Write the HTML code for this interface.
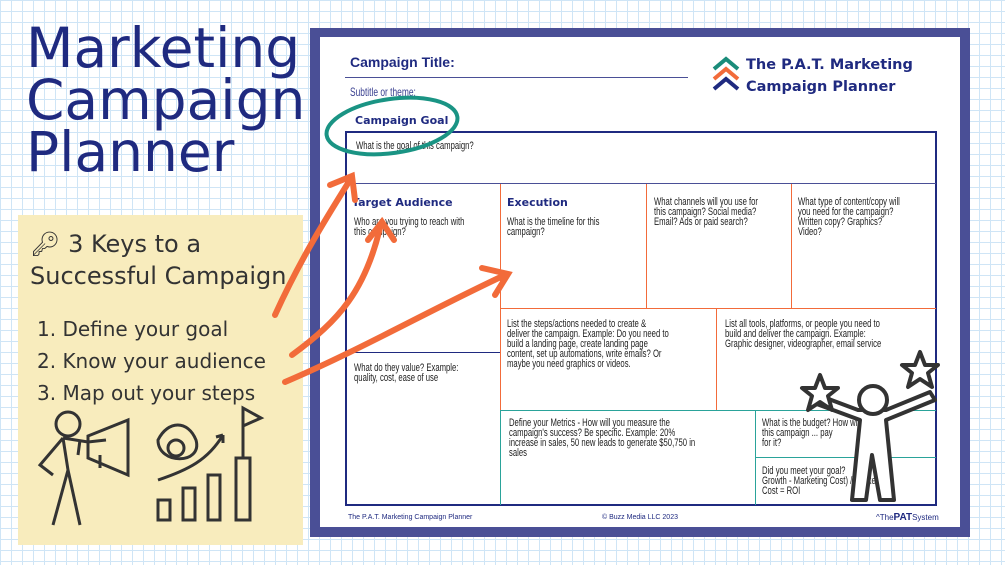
<!DOCTYPE html>
<html><head><meta charset="utf-8"><style>
*{margin:0;padding:0;box-sizing:border-box}
body{width:1005px;height:565px;overflow:hidden;position:relative;font-family:"Liberation Sans",sans-serif;
background-color:#fff;
background-image:linear-gradient(#cfe5f6 1px,transparent 1px),linear-gradient(90deg,#cfe5f6 1px,transparent 1px);
background-size:11px 11px;}
.a{position:absolute}
.t{font-size:11px;color:#222;line-height:10px;position:absolute;transform:scaleX(0.7);transform-origin:0 0;white-space:nowrap}
.h{font-weight:bold;color:#1f2a80;font-size:13px;position:absolute;white-space:nowrap}
.hw{position:absolute;color:#333;font-family:"DejaVu Sans",sans-serif;white-space:nowrap}
</style></head><body>
<div class="a" style="left:26px;top:22px;font-size:55px;line-height:52px;color:#1f2a80;font-family:'DejaVu Sans',sans-serif;">Marketing<br>Campaign<br>Planner</div>

<div class="a" style="left:18px;top:215px;width:285px;height:330px;background:#f8ecbd"></div>
<div class="hw" style="left:30px;top:228px;font-size:24px;line-height:32px">🔑︎ 3 Keys to a<br>Successful Campaign</div>
<div class="hw" style="left:37px;top:313px;font-size:20px;line-height:32px">1. Define your goal<br>2. Know your audience<br>3. Map out your steps</div>
<svg class="a" style="left:18px;top:400px" width="285" height="140" fill="none" stroke="#333" stroke-width="3">
<circle cx="50" cy="24" r="12"/><path d="M45 38 L70 42 L88 40 M45 38 L22 65 L35 75 M45 38 L50 70 L35 125 M50 70 L62 125 M60 55 L62 40"/>
<path d="M70 36 L110 20 L110 75 L70 58 Z M82 55 L82 68"/>
<path d="M140 40 C150 20 170 20 178 40 C185 65 140 65 140 40Z"/><circle cx="158" cy="48" r="8"/>
<path d="M140 80 C170 70 190 60 205 35 M205 35 L198 37 M205 35 L205 43"/>
<rect x="140" y="100" width="12" height="20"/><rect x="165" y="88" width="12" height="32"/><rect x="190" y="75" width="12" height="45"/><rect x="218" y="58" width="14" height="62"/><path d="M225 58 L225 8 L243 18 L225 26"/>
</svg>

<div class="a" style="left:310px;top:28px;width:660px;height:509px;background:#4a4f96"></div>
<div class="a" style="left:320px;top:37px;width:640px;height:490px;background:#fff"></div>
<div class="h" style="left:350px;top:54px;font-size:14px">Campaign Title:</div>
<div class="a" style="left:345px;top:77px;width:343px;height:1px;background:#4a4f96"></div>
<div class="t" style="left:350px;top:87px;font-size:12px;color:#3a4090">Subtitle or theme:</div>
<svg class="a" style="left:710px;top:55px" width="36" height="40"><path d="M4 14 L16 4 L28 14" stroke="#1a8c7a" stroke-width="4" fill="none"/><path d="M4 24 L16 14 L28 24" stroke="#f26b3a" stroke-width="4" fill="none"/><path d="M4 34 L16 24 L28 34" stroke="#1f2a80" stroke-width="4" fill="none"/></svg>
<div class="h" style="left:746px;top:54px;font-size:14.5px;line-height:22px;font-family:'DejaVu Sans',sans-serif">The P.A.T. Marketing<br>Campaign Planner</div>
<div class="h" style="left:355px;top:114px;font-size:11px;font-family:'DejaVu Sans',sans-serif">Campaign Goal</div>

<div class="a" style="left:345px;top:131px;width:592px;height:375px;border:2px solid #1f2a80"></div>
<div class="a" style="left:346px;top:183px;width:590px;height:1px;background:#4a4f96"></div>
<div class="a" style="left:500px;top:184px;width:1px;height:226px;background:#f26b3a"></div>
<div class="a" style="left:646px;top:184px;width:1px;height:124px;background:#f26b3a"></div>
<div class="a" style="left:791px;top:184px;width:1px;height:124px;background:#f26b3a"></div>
<div class="a" style="left:500px;top:308px;width:436px;height:1px;background:#f26b3a"></div>
<div class="a" style="left:716px;top:308px;width:1px;height:102px;background:#f26b3a"></div>
<div class="a" style="left:346px;top:352px;width:154px;height:1px;background:#1f2a80"></div>
<div class="a" style="left:500px;top:410px;width:1px;height:95px;background:#2aa39a"></div>
<div class="a" style="left:500px;top:410px;width:436px;height:1px;background:#2aa39a"></div>
<div class="a" style="left:755px;top:410px;width:1px;height:95px;background:#2aa39a"></div>
<div class="a" style="left:755px;top:457px;width:181px;height:1px;background:#2aa39a"></div>

<div class="t" style="left:356px;top:141px">What is the goal of this campaign?</div>
<div class="h" style="left:352px;top:196px;font-size:11px;font-family:'DejaVu Sans',sans-serif">Target Audience</div>
<div class="t" style="left:354px;top:217px">Who are you trying to reach with<br>this campaign?</div>
<div class="h" style="left:507px;top:196px;font-size:11px;font-family:'DejaVu Sans',sans-serif">Execution</div>
<div class="t" style="left:507px;top:217px">What is the timeline for this<br>campaign?</div>
<div class="t" style="left:654px;top:197px">What channels will you use for<br>this campaign? Social media?<br>Email? Ads or paid search?</div>
<div class="t" style="left:798px;top:197px">What type of content/copy will<br>you need for the campaign?<br>Written copy? Graphics?<br>Video?</div>
<div class="t" style="left:507px;top:319px">List the steps/actions needed to create &amp;<br>deliver the campaign. Example: Do you need to<br>build a landing page, create landing page<br>content, set up automations, write emails? Or<br>maybe you need graphics or videos.</div>
<div class="t" style="left:725px;top:319px">List all tools, platforms, or people you need to<br>build and deliver the campaign. Example:<br>Graphic designer, videographer, email service</div>
<div class="t" style="left:354px;top:363px">What do they value? Example:<br>quality, cost, ease of use</div>
<div class="t" style="left:509px;top:418px">Define your Metrics - How will you measure the<br>campaign's success? Be specific. Example: 20%<br>increase in sales, 50 new leads to generate $50,750 in<br>sales</div>
<div class="t" style="left:762px;top:418px">What is the budget? How will<br>this campaign ... pay<br>for it?</div>
<div class="t" style="left:762px;top:466px">Did you meet your goal?<br>Growth - Marketing Cost) / Marketing<br>Cost = ROI</div>
<div class="a" style="left:348px;top:514px;font-size:7px;color:#1f2a80">The P.A.T. Marketing Campaign Planner</div>
<div class="a" style="left:602px;top:514px;font-size:7px;color:#1f2a80">© Buzz Media LLC 2023</div>
<div class="a" style="left:876px;top:512px;font-size:8px;color:#1f2a80">^The<b style="font-size:10px">PAT</b>System</div>

<svg class="a" style="left:0;top:0" width="1005" height="565" fill="none">
<ellipse cx="392" cy="126" rx="66" ry="27" transform="rotate(-8 392 126)" stroke="#1a9484" stroke-width="4"/>
<g stroke="#f26b3a" stroke-width="6" stroke-linecap="round">
<path d="M275 315 C300 260 325 220 350 180"/><path d="M330 185 L352 176 L355 200"/>
<path d="M292 355 C340 320 365 290 380 228"/><path d="M368 240 L382 222 L394 240"/>
<path d="M285 382 C360 350 430 310 505 275"/><path d="M482 268 L508 274 L495 295"/>
</g>
<g stroke="#333" stroke-width="4" fill="#fff" stroke-linejoin="round">
<path d="M860 420 L852 500 L866 500 L872 455 L880 500 L894 500 L886 420 L935 400 L930 392 L886 410 L858 410 L818 395 L814 403 Z"/>
<circle cx="873" cy="400" r="14"/>
<path d="M820 375 L825 388 L838 388 L828 396 L832 410 L820 402 L808 410 L812 396 L802 388 L815 388Z"/>
<path d="M920 352 L925 365 L938 365 L928 373 L932 387 L920 379 L908 387 L912 373 L902 365 L915 365Z"/>
</g>
</svg>
</body></html>
